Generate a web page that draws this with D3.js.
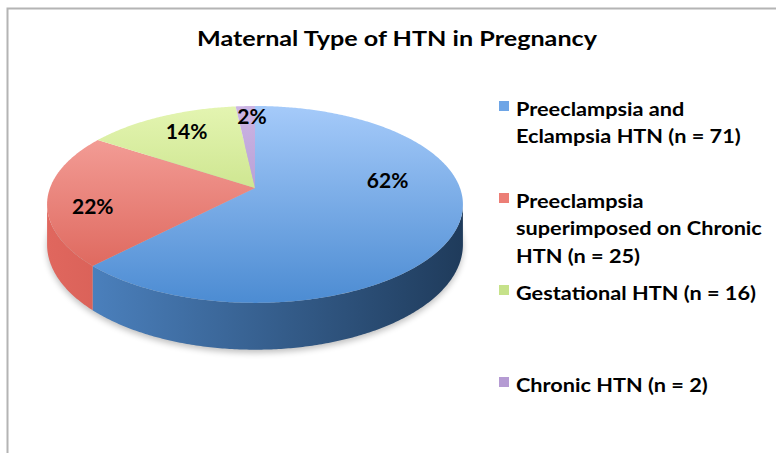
<!DOCTYPE html>
<html>
<head>
<meta charset="utf-8">
<script src="https://cdn.jsdelivr.net/npm/d3@7"></script>
<style>
  body { margin: 0; background: #fff; }
  text { font-family: Lato, "Open Sans", sans-serif; font-weight: bold; fill: #000; }
</style>
</head>
<body>
<div id="chart"></div>
<script>
// --- data ---
const categories = ["Preeclampsia and Eclampsia HTN", "Preeclampsia superimposed on Chronic HTN", "Gestational HTN", "Chronic HTN"];
const counts = [71, 25, 16, 2];
const legendLines = [
  ["Preeclampsia and", "Eclampsia HTN (n = 71)"],
  ["Preeclampsia", "superimposed on Chronic", "HTN (n = 25)"],
  ["Gestational HTN (n = 16)"],
  ["Chronic HTN (n = 2)"]
];
const title = "Maternal Type of HTN in Pregnancy";

// colours (light / dark ends of the gradients)
const topColors = [["#a6cbfa", "#4b8bd2"], ["#f8aaa4", "#d95a4f"], ["#e4f5b2", "#b1d264"], ["#ccb5e4", "#a085c3"]];
const sideColors = [["#5088c8", "#1f3b5b"], ["#e0675e", "#b23d35"], ["#b6d46a", "#7f9c3c"], ["#a88bc9", "#6e548c"]];
const legendColors = ["#6ea5e6", "#ec7e76", "#c6e28a", "#b59bd3"];

// label placement tweaks (angle offset in degrees, radius fraction), Excel style
const labelAngleShift = [-29, -8, 2, 2];
const labelRadius = [0.66, 0.79, 0.75, 0.85];

// --- layout ---
const width = 776, height = 453;
const cx = 255, cy = 188;      // projected pie centre
const R = 205, S = 95.7;       // horizontal / vertical radii
const k = 0.167;               // perspective strength
const D = 39;                  // side depth
const thetaS = Math.acos(-k);  // silhouette angle

function proj(theta, r = 1) {
  const u = r * Math.sin(theta), v = -r * Math.cos(theta);
  const d = 1 - k * v;
  return [cx + R * u / d, cy + S * v / d, d];
}
function arcPoints(a0, a1) {
  const n = Math.max(2, Math.ceil((a1 - a0) / 0.01));
  return d3.range(n + 1).map(i => proj(a0 + (a1 - a0) * i / n));
}

const svg = d3.select("#chart").append("svg")
  .attr("width", width)
  .attr("height", height);

const defs = svg.append("defs");
topColors.forEach((c, i) => {
  const g = defs.append("linearGradient").attr("id", "top" + i)
    .attr("gradientUnits", "userSpaceOnUse")
    .attr("x1", 0).attr("y1", 104).attr("x2", 0).attr("y2", 305);
  g.append("stop").attr("offset", 0).attr("stop-color", c[0]);
  g.append("stop").attr("offset", 1).attr("stop-color", c[1]);
});
sideColors.forEach((c, i) => {
  const g = defs.append("linearGradient").attr("id", "side" + i)
    .attr("gradientUnits", "userSpaceOnUse")
    .attr("x1", 47).attr("y1", 0).attr("x2", 463).attr("y2", 0);
  g.append("stop").attr("offset", 0).attr("stop-color", c[0]);
  g.append("stop").attr("offset", 1).attr("stop-color", c[1]);
});
defs.append("filter").attr("id", "blur")
  .attr("x", "-20%").attr("y", "-20%").attr("width", "140%").attr("height", "140%")
  .append("feGaussianBlur").attr("stdDeviation", 3);

// chart frame (only top and left edges are inside the picture)
svg.append("path")
  .attr("d", `M7.5,${height} V8.5 H${width}`)
  .attr("fill", "none")
  .attr("stroke", "#b4b4b4")
  .attr("stroke-width", 2);

// title, stretched to the width it has in the original
svg.append("text")
  .attr("x", 397).attr("y", 46)
  .attr("text-anchor", "middle")
  .attr("textLength", 400)
  .attr("lengthAdjust", "spacingAndGlyphs")
  .style("font-size", "20px")
  .text(title);

const pie = d3.pie().sort(null).value(d => d)(counts);
const total = d3.sum(counts);
const pct = d3.format(".0%");

// shadow under the pie
const shadowPts = arcPoints(0, 2 * Math.PI).map(p => [p[0], p[1] + D / p[2] + 3]);
svg.append("path")
  .attr("d", d3.line()(shadowPts) + "Z")
  .attr("fill", "#000")
  .attr("opacity", 0.25)
  .attr("filter", "url(#blur)");

// side walls (front half only)
svg.append("g").selectAll("path")
  .data(pie)
  .join("path")
  .attr("d", d => {
    const a0 = Math.max(d.startAngle, thetaS);
    const a1 = Math.min(d.endAngle, 2 * Math.PI - thetaS);
    if (a1 <= a0) return null;
    const top = arcPoints(a0, a1);
    const bottom = top.map(p => [p[0], p[1] + D / p[2]]).reverse();
    return d3.line()(top.map(p => [p[0], p[1]]).concat(bottom)) + "Z";
  })
  .attr("fill", (d, i) => `url(#side${i})`);

// top faces
svg.append("g").selectAll("path")
  .data(pie)
  .join("path")
  .attr("d", d => {
    const pts = [[cx, cy]].concat(arcPoints(d.startAngle, d.endAngle).map(p => [p[0], p[1]]));
    return d3.line()(pts) + "Z";
  })
  .attr("fill", (d, i) => `url(#top${i})`);

// percentage labels
svg.append("g").selectAll("text")
  .data(pie)
  .join("text")
  .each(function(d, i) {
    const mid = (d.startAngle + d.endAngle) / 2 + labelAngleShift[i] * Math.PI / 180;
    const p = proj(mid, labelRadius[i]);
    d3.select(this).attr("x", p[0]).attr("y", p[1] + 7);
  })
  .attr("text-anchor", "middle")
  .style("font-size", "21px")
  .text(d => pct(d.value / total));

// legend
const legendY = d3.scalePoint().domain(categories).range([101, 377]);
const legend = svg.append("g").selectAll("g")
  .data(categories)
  .join("g")
  .attr("transform", d => `translate(499,${legendY(d)})`);
legend.append("rect")
  .attr("width", 10).attr("height", 10)
  .attr("fill", (d, i) => legendColors[i]);
const legendText = legend.append("g")
  .attr("transform", "translate(17,0)")
  .append("text")
  .style("font-size", "18px");
legendText.selectAll("tspan")
  .data((d, i) => legendLines[i])
  .join("tspan")
  .attr("x", 0)
  .attr("y", (d, j) => 15 + j * 27.5)
  .text(d => d);

// widen the legend text to the Calibri-like width of the original
let widest = 0;
legendText.selectAll("tspan").each(function(d) {
  if (d === "superimposed on Chronic") widest = this.getComputedTextLength();
});
const sx = widest ? 246 / widest : 1;
legendText.attr("transform", `scale(${sx},1)`);
</script>
</body>
</html>
